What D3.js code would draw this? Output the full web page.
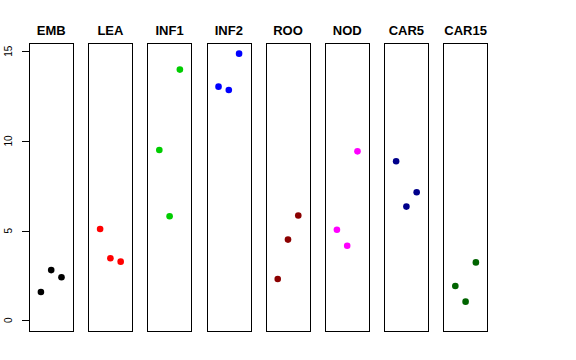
<!DOCTYPE html>
<html><head><meta charset="utf-8">
<script src="https://cdn.jsdelivr.net/npm/d3@7"></script>
<style>body{margin:0;background:#fff}svg{display:block}</style>
</head><body>
<script>
const categories = ["EMB","LEA","INF1","INF2","ROO","NOD","CAR5","CAR15"];
const colors = ["#000000","#ff0000","#00cd00","#0000ff","#8b0000","#ff00ff","#00008b","#006400"];
const rep1 = [1.58, 5.09, 9.50, 13.03, 2.30, 5.05, 8.87, 1.91];
const rep2 = [2.80, 3.46, 5.80, 12.84, 4.50, 4.16, 6.34, 1.04];
const rep3 = [2.40, 3.27, 13.98, 14.87, 5.84, 9.42, 7.14, 3.23];
const yTicks = [0, 5, 10, 15];

const W = 576, H = 360;
const svg = d3.select("body").append("svg").attr("width", W).attr("height", H);
const font = "'Liberation Sans', Arial, Helvetica, sans-serif";

const band = d3.scaleBand().domain(categories).range([29, 487.8]).paddingInner(0.25).paddingOuter(0);
const y = d3.scaleLinear().domain([0, 15]).range([320.3, 51.3]);
const yTop = y(15.44), yBot = y(-0.6);

categories.forEach((c, i) => {
  const x0 = band(c);
  const x = d3.scaleLinear().domain([-0.16, 4.16]).range([x0, x0 + band.bandwidth()]);
  const g = svg.append("g");
  g.append("rect").attr("x", Math.round(x0) + 0.5).attr("y", Math.round(yTop) + 0.5)
    .attr("width", Math.round(band.bandwidth())).attr("height", Math.round(yBot - yTop))
    .attr("fill", "none").attr("stroke", "#000").attr("stroke-width", 1);
  g.append("text").attr("x", x0 + band.bandwidth() / 2).attr("y", 34.5)
    .attr("text-anchor", "middle").attr("font-family", font).attr("font-weight", "bold")
    .attr("font-size", 13).text(c);
  const vals = [rep1[i], rep2[i], rep3[i]];
  g.selectAll("circle").data(vals).enter().append("circle")
    .attr("cx", (d, j) => x(j + 1)).attr("cy", d => y(d)).attr("r", 3.3)
    .attr("fill", colors[i]);
});

// y axis
const ax = svg.append("g").attr("transform", "translate(29.5,0)");
ax.append("line").attr("x1", 0).attr("x2", 0).attr("y1", y(0)).attr("y2", y(15)).attr("stroke", "#000");
yTicks.forEach(t => {
  ax.append("line").attr("x1", -7.5).attr("x2", 0).attr("y1", Math.round(y(t)) + 0.5).attr("y2", Math.round(y(t)) + 0.5).attr("stroke", "#000");
  ax.append("text").attr("transform", `translate(-17.5,${y(t)}) rotate(-90)`)
    .attr("text-anchor", "middle").attr("font-family", font).attr("font-size", 10)
    .text(t);
});
</script>
</body></html>
